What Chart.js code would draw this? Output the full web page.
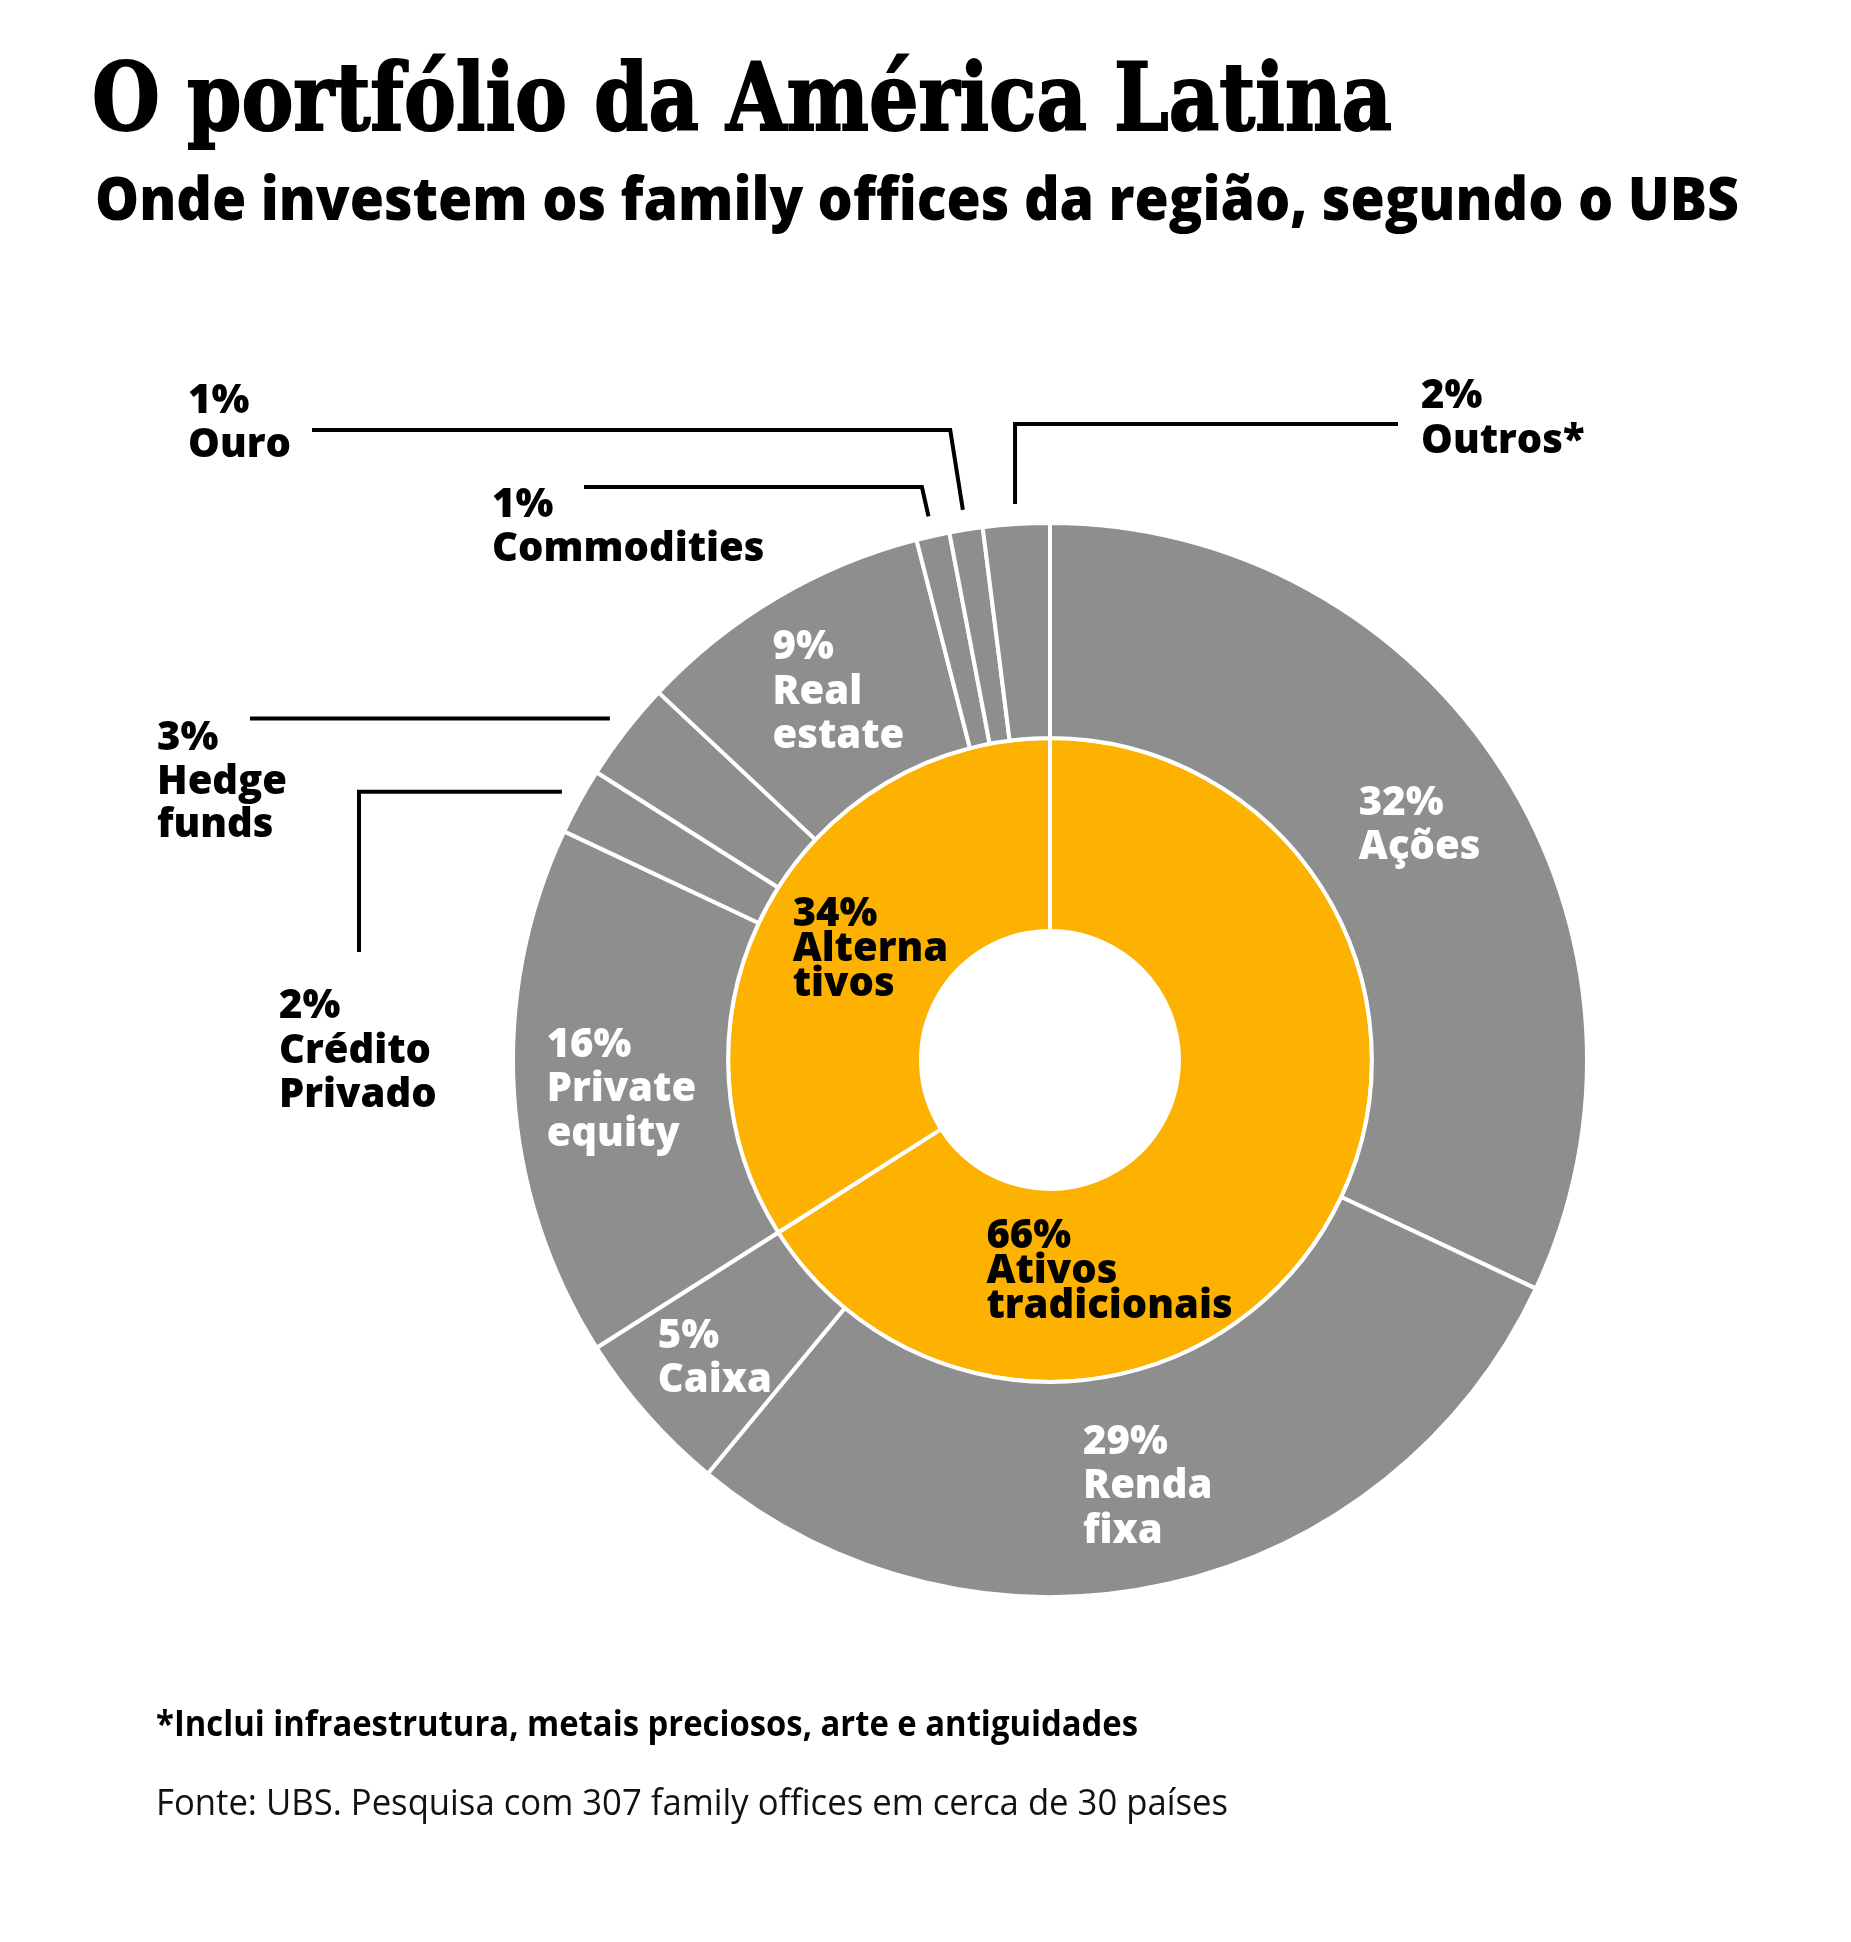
<!DOCTYPE html>
<html lang="pt">
<head>
<meta charset="utf-8" />
<title>O portfólio da América Latina</title>
<script src="https://cdn.jsdelivr.net/npm/chart.js@4.4.0/dist/chart.umd.min.js"></script>
<style>
    html, body {
        margin: 0;
        padding: 0;
        background: #fff;
    }
    body {
        position: relative;
        width: 1851px;
        height: 1942px;
        overflow: hidden;
        font-family: "Open Sans", sans-serif;
        color: #000;
    }
    .txt {
        position: absolute;
        white-space: nowrap;
        line-height: 1;
        transform-origin: 0 0;
    }
    #titulo {
        left: 92px;
        top: 51px;
        font-family: "DejaVu Serif", serif;
        font-weight: 700;
        font-size: 93px;
        -webkit-text-stroke: 2px #000;
    }
    #subtitulo {
        left: 95px;
        top: 167px;
        font-weight: 800;
        font-size: 60px;
    }
    #nota {
        left: 156px;
        top: 1705px;
        font-weight: 700;
        font-size: 36px;
    }
    #fonte {
        left: 156px;
        top: 1784px;
        font-weight: 400;
        font-size: 36px;
        color: #111;
    }
    #grafico {
        position: absolute;
        left: 0;
        top: 0;
    }
</style>
</head>
<body>
    <canvas id="grafico" width="1851" height="1942"></canvas>
    <div class="txt" id="titulo">O portfólio da América Latina</div>
    <div class="txt" id="subtitulo">Onde investem os family offices da região, segundo o UBS</div>
    <div class="txt" id="nota">*Inclui infraestrutura, metais preciosos, arte e antiguidades</div>
    <div class="txt" id="fonte">Fonte: UBS. Pesquisa com 307 family offices em cerca de 30 países</div>
<script>
    // anel interno
    const grupos = ['66% Ativos tradicionais', '34% Alternativos'];
    const gruposValores = [66, 34];
    const gruposRotulos = ['Ativos\ntradicionais', 'Alterna\ntivos'];

    // anel externo (sentido horário a partir do topo)
    const classes = ['Ações', 'Renda fixa', 'Caixa', 'Private equity', 'Crédito Privado',
                     'Hedge funds', 'Real estate', 'Commodities', 'Ouro', 'Outros*'];
    const classesValores = [32, 29, 5, 16, 2, 3, 9, 1, 1, 2];
    const classesRotulos = ['Ações', 'Renda\nfixa', 'Caixa', 'Private\nequity', 'Crédito\nPrivado',
                            'Hedge\nfunds', 'Real\nestate', 'Commodities', 'Ouro', 'Outros*'];

    const CINZA = '#8e8e8e';
    const LARANJA = '#fdb100';
    const FONTE_ROTULO = '800 40px "Open Sans"';
    const ALTURA_CAPS = 28.5;

    // rótulos com linha de chamada, fora do anel
    const chamadas = {
        'Crédito Privado': { fimX: 359, fimY: 952, textoX: 279, textoY: 1018, entre: 44.5 },
        'Hedge funds': { fimX: 250, textoX: 157, textoY: 750, entre: 43.5 },
        'Commodities': { cotovelo: 487, fimX: 584, textoX: 492, textoY: 517, entre: 44 },
        'Ouro': { cotovelo: 430, fimX: 312, textoX: 188, textoY: 413, entre: 44 },
        'Outros*': { cotovelo: 424, vertical: true, fimX: 1398, textoX: 1421, textoY: 408, entre: 45 }
    };

    // pequenos ajustes dos blocos de texto internos
    const ajustes = {
        'Ações': [7, -7],
        'Renda\nfixa': [4, 5],
        'Caixa': [-13, 12],
        'Real\nestate': [7, -1],
        'Ativos\ntradicionais': [-138, 100],
        'Alterna\ntivos': [18, -5]
    };

    function blocoCentrado(ctx, arco, linhas, entre, cor, ajuste) {
        const m = (arco.startAngle + arco.endAngle) / 2;
        const r = (arco.innerRadius + arco.outerRadius) / 2;
        let cx = arco.x + Math.cos(m) * r;
        let cy = arco.y + Math.sin(m) * r;
        if (ajuste) {
            cx += ajuste[0];
            cy += ajuste[1];
        }
        let largura = 0;
        linhas.forEach(l => { largura = Math.max(largura, ctx.measureText(l).width); });
        const x0 = cx - largura / 2;
        let y = cy - (linhas.length - 1) * entre / 2 + ALTURA_CAPS / 2;
        ctx.fillStyle = cor;
        linhas.forEach(l => {
            ctx.fillText(l, x0, y);
            y += entre;
        });
    }

    function chamada(ctx, arco, c, linhas) {
        const m = (arco.startAngle + arco.endAngle) / 2;
        const r = arco.outerRadius + 20;
        const x0 = arco.x + Math.cos(m) * r;
        const y0 = arco.y + Math.sin(m) * r;
        ctx.beginPath();
        ctx.moveTo(x0, y0);
        if (c.cotovelo !== undefined) {
            const t = (c.cotovelo - y0) / Math.sin(m);
            const xe = c.vertical ? x0 : x0 + Math.cos(m) * t;
            ctx.lineTo(xe, c.cotovelo);
            ctx.lineTo(c.fimX, c.cotovelo);
        } else {
            ctx.lineTo(c.fimX, y0);
            if (c.fimY !== undefined) {
                ctx.lineTo(c.fimX, c.fimY);
            }
        }
        ctx.stroke();
        ctx.fillStyle = '#000';
        let y = c.textoY;
        linhas.forEach(l => {
            ctx.fillText(l, c.textoX, y);
            y += c.entre;
        });
    }

    const rotulos = {
        id: 'rotulos',
        afterDatasetsDraw(chart) {
            const ctx = chart.ctx;
            ctx.save();
            ctx.font = FONTE_ROTULO;
            ctx.textAlign = 'left';
            ctx.textBaseline = 'alphabetic';
            ctx.strokeStyle = '#000';
            ctx.lineWidth = 4;
            ctx.lineJoin = 'miter';
            ctx.lineCap = 'butt';

            chart.getDatasetMeta(0).data.forEach((arco, i) => {
                const p = arco.getProps(['x', 'y', 'startAngle', 'endAngle', 'innerRadius', 'outerRadius'], true);
                const linhas = [classesValores[i] + '%'].concat(classesRotulos[i].split('\n'));
                const c = chamadas[classes[i]];
                if (c) {
                    chamada(ctx, p, c, linhas);
                } else {
                    blocoCentrado(ctx, p, linhas, 44.5, '#fff', ajustes[classesRotulos[i]]);
                }
            });

            chart.getDatasetMeta(1).data.forEach((arco, i) => {
                const p = arco.getProps(['x', 'y', 'startAngle', 'endAngle', 'innerRadius', 'outerRadius'], true);
                const linhas = [gruposValores[i] + '%'].concat(gruposRotulos[i].split('\n'));
                blocoCentrado(ctx, p, linhas, 35, '#000', ajustes[gruposRotulos[i]]);
            });
            ctx.restore();
        }
    };

    new Chart(document.getElementById('grafico'), {
        type: 'doughnut',
        data: {
            labels: classes,
            datasets: [{
                label: 'Classes de ativos',
                data: classesValores,
                backgroundColor: CINZA,
                borderColor: '#fff',
                borderWidth: 4,
                hoverOffset: 0,
                weight: 213
            }, {
                label: 'Grupos',
                data: gruposValores,
                backgroundColor: LARANJA,
                borderColor: '#fff',
                borderWidth: 4,
                hoverOffset: 0,
                weight: 191
            }]
        },
        options: {
            responsive: false,
            animation: false,
            events: [],
            cutout: 129,
            layout: {
                padding: { left: 511, right: 262, top: 521, bottom: 343 }
            },
            plugins: {
                legend: { display: false },
                tooltip: { enabled: false }
            }
        },
        plugins: [rotulos]
    });

    // os textos do cabeçalho e rodapé ocupam a largura do original
    function ajustarLargura(id, largura) {
        const el = document.getElementById(id);
        el.style.transform = 'none';
        const w = el.getBoundingClientRect().width;
        el.style.transform = 'scaleX(' + (largura / w) + ')';
    }
    function ajustarTudo() {
        ajustarLargura('titulo', 1300);
        ajustarLargura('subtitulo', 1644);
        ajustarLargura('nota', 982);
        ajustarLargura('fonte', 1072);
    }
    ajustarTudo();
    document.fonts.ready.then(ajustarTudo);
</script>
</body>
</html>
